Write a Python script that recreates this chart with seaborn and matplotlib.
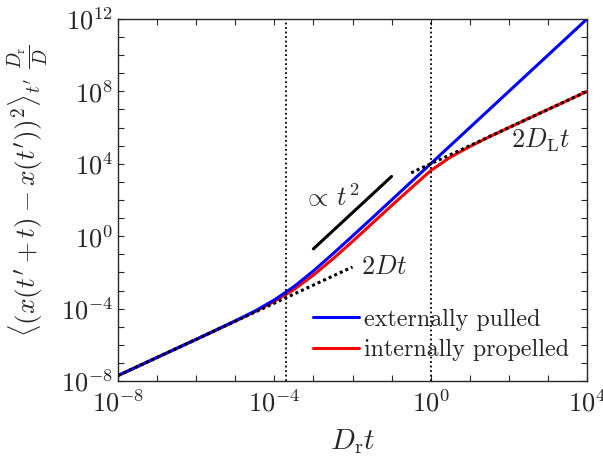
import numpy as np
import seaborn as sns
from matplotlib import pyplot as plt
from matplotlib.lines import Line2D
from matplotlib.ticker import FixedLocator, NullFormatter

# values (log10 of D_r t and of the scaled MSD)
log_t = [-8.0, -7.5, -7.0, -6.5, -6.0, -5.5, -5.0, -4.5, -4.0, -3.5, -3.0, -2.5,
         -2.0, -1.5, -1.0, -0.5, 0.0, 0.5, 1.0, 1.5, 2.0, 2.5, 3.0, 3.5, 4.0]
log_pulled = [-7.70, -7.20, -6.70, -6.20, -5.70, -5.19, -4.68, -4.14, -3.52, -2.79, -1.92, -0.97,
              0.01, 1.00, 2.00, 3.00, 4.00, 5.00, 6.00, 7.00, 8.00, 9.00, 10.00, 11.00, 12.00]
log_propelled = [-7.70, -7.20, -6.70, -6.20, -5.70, -5.20, -4.69, -4.17, -3.60, -2.95, -2.15, -1.25,
                 -0.29, 0.70, 1.69, 2.66, 3.62, 4.36, 4.95, 5.49, 6.00, 6.50, 7.00, 7.50, 8.00]

# guide lines
diff_t = [1e-8, 1e-2]          # 2Dt
diff_y = [2e-8, 2e-2]
long_t = [10 ** -0.5, 1e4]     # 2 D_L t
long_y = [10 ** 3.5, 1e8]
ball_t = [1e-3, 1e-1]          # proportional to t^2
ball_y = [0.2, 2000.0]
vlines = [2e-4, 1.0]

x_ticks = [1e-8, 1e-4, 1e0, 1e4]
x_labels = [r"$10^{-8}$", r"$10^{-4}$", r"$10^{0}$", r"$10^{4}$"]
y_ticks = [1e-8, 1e-4, 1e0, 1e4, 1e8, 1e12]
y_labels = [r"$10^{-8}$", r"$10^{-4}$", r"$10^{0}$", r"$10^{4}$", r"$10^{8}$", r"$10^{12}$"]
legend_labels = ["externally pulled", "internally propelled"]

sns.set_style("ticks")
plt.rcParams["font.family"] = "serif"
plt.rcParams["font.serif"] = ["cmr10", "DejaVu Serif"]
plt.rcParams["mathtext.fontset"] = "cm"
plt.rcParams["axes.unicode_minus"] = False

grey = "#262626"
t = 10 ** np.array(log_t)

fig = plt.figure(figsize=(6.03, 4.57), dpi=100)
ax = fig.add_axes([118 / 603, 76 / 457, 469 / 603, 362 / 457])

sns.lineplot(x=t, y=10 ** np.array(log_propelled), color="#ff0000", lw=2.2, ax=ax, estimator=None)
sns.lineplot(x=t, y=10 ** np.array(log_pulled), color="#0000ff", lw=2.2, ax=ax, estimator=None)
ax.plot(diff_t, diff_y, color="black", lw=2.2, ls=(0, (1, 1)))
ax.plot(long_t, long_y, color="black", lw=2.2, ls=(0, (1, 1)))
ax.plot(ball_t, ball_y, color="black", lw=2.2)
for v in vlines:
    ax.axvline(v, color="black", lw=1.3, ls=(0, (1, 1.5)))

ax.set_xscale("log")
ax.set_yscale("log")
ax.set_xlim(1e-8, 1e4)
ax.set_ylim(1e-8, 1e12)

ax.xaxis.set_major_locator(FixedLocator(x_ticks))
ax.set_xticklabels(x_labels)
ax.yaxis.set_major_locator(FixedLocator(y_ticks))
ax.set_yticklabels(y_labels)
ax.xaxis.set_minor_locator(FixedLocator([10.0 ** k for k in range(-8, 5)]))
ax.yaxis.set_minor_locator(FixedLocator([10.0 ** k for k in range(-8, 13)]))
ax.xaxis.set_minor_formatter(NullFormatter())
ax.yaxis.set_minor_formatter(NullFormatter())
ax.tick_params(which="both", direction="in", top=True, right=True, length=4,
               width=0.8, color=grey, labelsize=19, labelcolor=grey)
ax.tick_params(axis="x", pad=6)
for s in ax.spines.values():
    s.set_color(grey)
    s.set_linewidth(1.0)

ax.set_xlabel(r"$D_\mathrm{r}t$", fontsize=21, color=grey, labelpad=8)
ax.set_ylabel(r"$\langle (x(t'+t) - x(t'))^2 \rangle_{t'}\ \frac{D_\mathrm{r}}{D}$",
              fontsize=19.6, color=grey)
ax.yaxis.set_label_coords(-0.145, 0.525)

ax.text(10 ** -2.54, 10 ** 2.17, r"$\propto\, t^2$", fontsize=19, ha="center", va="center")
ax.text(10 ** -1.2, 10 ** -1.7, r"$2Dt$", fontsize=19, ha="center", va="center")
ax.text(10 ** 2.82, 10 ** 5.31, r"$2D_\mathrm{L}t$", fontsize=19, ha="center", va="center")

handles = [Line2D([], [], color="#0000ff", lw=2.2), Line2D([], [], color="#ff0000", lw=2.2)]
ax.legend(handles, legend_labels, loc="lower left", bbox_to_anchor=(0.415, 0.055),
          frameon=False, fontsize=17.3, handlelength=1.95, handletextpad=0.2,
          labelspacing=0.35, borderpad=0, borderaxespad=0)

fig.savefig("out.png", dpi=100)
